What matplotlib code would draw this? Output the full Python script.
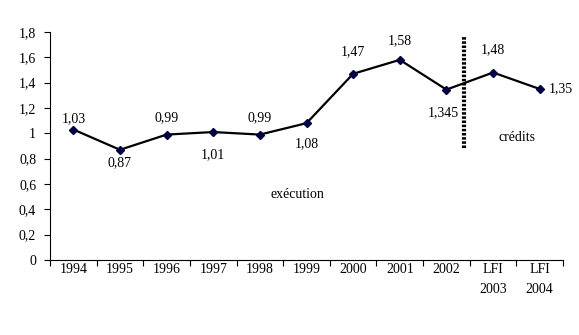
import matplotlib.pyplot as plt

categories = ["1994", "1995", "1996", "1997", "1998", "1999", "2000", "2001", "2002",
              "LFI\n2003", "LFI\n2004"]
values = [1.03, 0.87, 0.99, 1.01, 0.99, 1.08, 1.47, 1.58, 1.345, 1.48, 1.35]
value_labels = ["1,03", "0,87", "0,99", "1,01", "0,99", "1,08", "1,47", "1,58", "1,345", "1,48", "1,35"]
# label placement relative to point: offset in points
offsets = [(0, 8), (0, -9.5), (0, 12), (0, -16), (0, 12), (0, -14.5), (0, 16), (0, 14),
           (-2, -16.5), (0, 16.5), (15, 0)]
yticks = [0, 0.2, 0.4, 0.6, 0.8, 1, 1.2, 1.4, 1.6, 1.8]
ytick_labels = ["0", "0,2", "0,4", "0,6", "0,8", "1", "1,2", "1,4", "1,6", "1,8"]

plt.rcParams['font.family'] = ['Liberation Serif', 'DejaVu Serif']
plt.rcParams['font.size'] = 10

fig = plt.figure(figsize=(5.79, 3.35), dpi=100, facecolor='w')
ax = fig.add_axes([0.0864, 0.224, 0.886, 0.6805])

x = list(range(len(values)))
ax.plot(x, values, color='black', lw=1.6, marker='D', markersize=4.5,
        markerfacecolor='#000040', markeredgecolor='#000040', zorder=3)

for xi, v, lab, off in zip(x, values, value_labels, offsets):
    ax.annotate(lab, (xi, v), xytext=off, textcoords='offset points',
                ha='center', va='center')

# separator between execution and credits
ax.plot([8.38, 8.38], [0.884, 1.77], color='black', lw=3, linestyle=(0, (0.6, 0.4)))
ax.text(4.80, 0.52, "exécution", ha='center', va='center')
ax.text(9.52, 0.97, "crédits", ha='center', va='center')

ax.set_xlim(-0.5, 10.5)
ax.set_ylim(0, 1.8)
ax.set_xticks([i + 0.5 for i in range(-1, 11)], minor=False)
ax.set_xticklabels([])
ax.set_xticks(x, minor=True)
ax.set_xticklabels(categories, minor=True, linespacing=1.7)
ax.tick_params(axis='x', which='minor', length=0, pad=2.5)
ax.tick_params(axis='x', which='major', length=4, direction='out')
ax.set_yticks(yticks)
ax.set_yticklabels(ytick_labels)
ax.tick_params(axis='y', length=4, direction='out', pad=6)

ax.spines['top'].set_visible(False)
ax.spines['right'].set_visible(False)

plt.savefig("out.png", dpi=100)
